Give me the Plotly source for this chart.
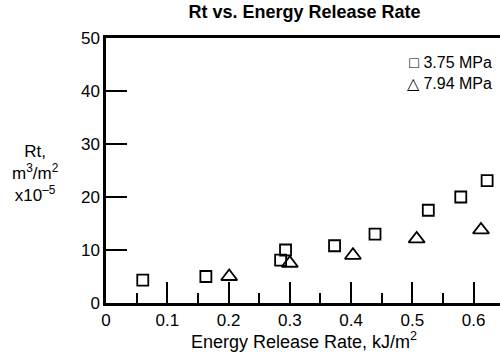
import plotly.graph_objects as go

# Data
x_375 = [0.060, 0.163, 0.285, 0.293, 0.373, 0.439, 0.526, 0.579, 0.622]
y_375 = [4.3, 5.0, 8.1, 10.0, 10.8, 13.0, 17.5, 20.0, 23.1]
x_794 = [0.201, 0.300, 0.403, 0.507, 0.612]
y_794 = [5.0, 7.5, 9.0, 12.1, 13.8]
x_ticks = [0, 0.1, 0.2, 0.3, 0.4, 0.5, 0.6]
x_ticklabels = ["0", "0.1", "0.2", "0.3", "0.4", "0.5", "0.6"]
y_ticks = [0, 10, 20, 30, 40, 50]
series_names = ["3.75 MPa", "7.94 MPa"]

FONT = "Liberation Sans, Arial, Helvetica, sans-serif"

fig = go.Figure()
fig.add_trace(go.Scatter(x=x_375, y=y_375, mode="markers", name=series_names[0],
                         showlegend=False,
                         marker=dict(symbol="square-open", size=11, color="black",
                                     line=dict(width=1.8, color="black"))))
fig.add_trace(go.Scatter(x=x_794, y=y_794, mode="markers", name=series_names[1],
                         showlegend=False,
                         marker=dict(symbol="triangle-up-open", size=14, color="black",
                                     line=dict(width=1.8, color="black"))))

fig.update_layout(
    width=500, height=354,
    margin=dict(l=106, r=0, t=38, b=51, autoexpand=False),
    paper_bgcolor="white", plot_bgcolor="white",
    font=dict(family=FONT, size=17, color="black"),
    title=dict(text="<b>Rt vs. Energy Release Rate</b>", x=0.609, xanchor="center",
               xref="container", yref="container",
               y=0.966, yanchor="middle", font=dict(size=18, family=FONT)),
    showlegend=False,
    xaxis=dict(range=[0, 0.643], tickvals=x_ticks, ticktext=x_ticklabels,
               ticks="inside", ticklen=21, tickwidth=2, tickcolor="black",
               showline=True, linewidth=2.5, linecolor="black", mirror=True,
               showgrid=False, zeroline=False, automargin=False,
               tickfont=dict(size=17),
               minor=dict(dtick=0.05, tick0=0, ticks="inside", ticklen=10,
                          tickwidth=1.5, tickcolor="black", showgrid=False)),
    yaxis=dict(range=[0, 50], tickvals=y_ticks,
               ticks="inside", ticklen=21, tickwidth=2, tickcolor="black",
               showline=True, linewidth=2.5, linecolor="black",
               showgrid=False, zeroline=False, automargin=False,
               tickfont=dict(size=17)),
)

# x-axis title
fig.add_annotation(xref="paper", yref="paper", x=0.5025, y=-0.14,
                   xanchor="center", yanchor="middle", showarrow=False,
                   text="Energy Release Rate, kJ/m<sup>2</sup>",
                   font=dict(size=18, family=FONT))

# y-axis title
fig.add_annotation(xref="paper", yref="paper", x=-0.180, y=0.49,
                   xanchor="center", yanchor="middle", showarrow=False,
                   text="Rt,<br>m<sup>3</sup>/m<sup>2</sup><br>x10<sup>\u20135</sup>",
                   font=dict(size=17, family=FONT), align="center")

# legend as text (one block, two lines)
fig.add_annotation(xref="paper", yref="paper", x=0.985, y=0.868,
                   xanchor="right", yanchor="middle", showarrow=False, align="right",
                   text="\u25a1 " + series_names[0] + "<br>\u25b3 " + series_names[1],
                   font=dict(size=16, family=FONT))

fig.write_html("out.html", post_script="document.body.style.margin='0';",
               config={"displayModeBar": False})
